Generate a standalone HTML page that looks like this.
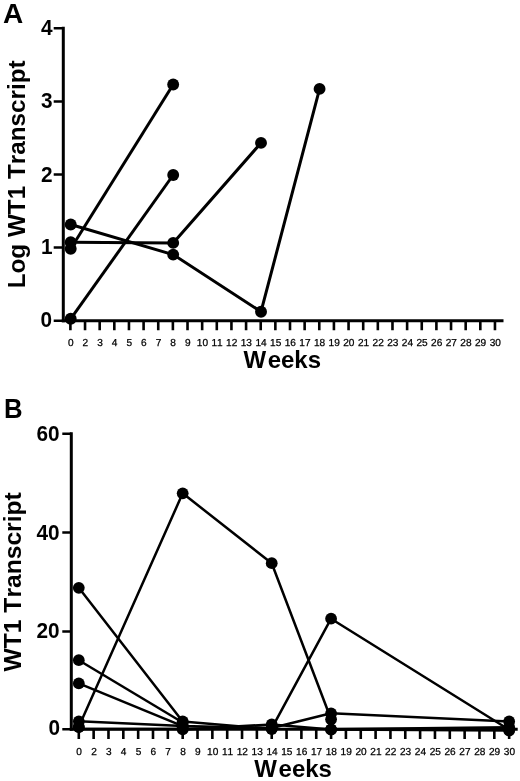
<!DOCTYPE html>
<html><head><meta charset="utf-8"><title>WT1 Transcript</title>
<style>
html,body{margin:0;padding:0;background:#fff;}
body{width:520px;height:781px;overflow:hidden;font-family:"Liberation Sans",sans-serif;}
svg{display:block;will-change:transform;filter:grayscale(1);}
text{font-family:"Liberation Sans",sans-serif;fill:#000;font-kerning:none;}
.ax{stroke:#000;stroke-width:3;fill:none;stroke-linecap:butt;}
.tk{stroke:#000;stroke-width:2.6;fill:none;}
.ln{stroke:#000;stroke-width:3;fill:none;stroke-linejoin:round;}
.pt{fill:#000;}
.xl{font-size:10.1px;text-anchor:middle;text-rendering:geometricPrecision;stroke:#000;stroke-width:0.25px;}
.yl{font-size:22px;font-weight:bold;text-anchor:end;}
.big{font-size:24px;font-weight:bold;}
.let{font-size:28px;font-weight:bold;}
</style></head><body>
<svg width="520" height="781" viewBox="0 0 520 781">
<rect width="520" height="781" fill="#fff"/>

<g>
<text class="let" x="2.9" y="22.7">A</text>
<text class="big" transform="translate(25.2,288.3) rotate(-90)" textLength="228" lengthAdjust="spacingAndGlyphs">Log WT1 Transcript</text>
<path class="ax" d="M63.3 26.8 V322.2"/>
<path class="ax" d="M61.8 320.7 H503.5"/>
<text class="yl" transform="translate(52,327.2) scale(0.945,1)">0</text>
<text class="yl" transform="translate(52.5,253.8) scale(0.945,1)">1</text>
<text class="yl" transform="translate(52.5,181.6) scale(0.945,1)">2</text>
<text class="yl" transform="translate(52.5,107.9) scale(0.945,1)">3</text>
<text class="yl" transform="translate(52.5,34.85) scale(0.945,1)">4</text>
<path class="ax" style="stroke-width:2.5" d="M53.7 320.7 H63.3M53.7 247.4 H63.3M53.7 174.4 H63.3M53.7 101.4 H63.3M53.7 28.3 H63.3"/>
<text class="xl" x="70.7" y="345.9">0</text>
<text class="xl" x="85.34" y="345.9">2</text>
<text class="xl" x="99.98" y="345.9">3</text>
<text class="xl" x="114.62" y="345.9">4</text>
<text class="xl" x="129.26" y="345.9">5</text>
<text class="xl" x="143.9" y="345.9">6</text>
<text class="xl" x="158.54" y="345.9">7</text>
<text class="xl" x="173.18" y="345.9">8</text>
<text class="xl" x="187.82" y="345.9">9</text>
<text class="xl" x="202.46" y="345.9">10</text>
<text class="xl" x="217.1" y="345.9">11</text>
<text class="xl" x="231.74" y="345.9">12</text>
<text class="xl" x="246.38" y="345.9">13</text>
<text class="xl" x="261.02" y="345.9">14</text>
<text class="xl" x="275.66" y="345.9">15</text>
<text class="xl" x="290.3" y="345.9">16</text>
<text class="xl" x="304.94" y="345.9">17</text>
<text class="xl" x="319.58" y="345.9">18</text>
<text class="xl" x="334.22" y="345.9">19</text>
<text class="xl" x="348.86" y="345.9">20</text>
<text class="xl" x="363.5" y="345.9">21</text>
<text class="xl" x="378.14" y="345.9">22</text>
<text class="xl" x="392.78" y="345.9">23</text>
<text class="xl" x="407.42" y="345.9">24</text>
<text class="xl" x="422.06" y="345.9">25</text>
<text class="xl" x="436.7" y="345.9">26</text>
<text class="xl" x="451.34" y="345.9">27</text>
<text class="xl" x="465.98" y="345.9">28</text>
<text class="xl" x="480.62" y="345.9">29</text>
<text class="xl" x="495.26" y="345.9">30</text>
<path class="tk" d="M70.4 320.7 V330.3M85.04 320.7 V330.3M99.68 320.7 V330.3M114.32 320.7 V330.3M128.96 320.7 V330.3M143.6 320.7 V330.3M158.24 320.7 V330.3M172.88 320.7 V330.3M187.52 320.7 V330.3M202.16 320.7 V330.3M216.8 320.7 V330.3M231.44 320.7 V330.3M246.08 320.7 V330.3M260.72 320.7 V330.3M275.36 320.7 V330.3M290 320.7 V330.3M304.64 320.7 V330.3M319.28 320.7 V330.3M333.92 320.7 V330.3M348.56 320.7 V330.3M363.2 320.7 V330.3M377.84 320.7 V330.3M392.48 320.7 V330.3M407.12 320.7 V330.3M421.76 320.7 V330.3M436.4 320.7 V330.3M451.04 320.7 V330.3M465.68 320.7 V330.3M480.32 320.7 V330.3M494.96 320.7 V330.3"/>
<text class="big" x="243.4" y="368.4">W<tspan dx="1.6">eeks</tspan></text>
<polyline class="ln" style="stroke-width:3" points="70.7,248.8 173.18,84.5"/>
<polyline class="ln" style="stroke-width:3" points="70.7,318.8 173.18,175"/>
<polyline class="ln" style="stroke-width:3" points="70.7,242.2 173.18,242.9 261.02,142.9"/>
<polyline class="ln" style="stroke-width:3" points="70.7,224.5 173.18,254.6 261.02,311.7 319.58,88.9"/>
<circle class="pt" cx="70.7" cy="248.8" r="5.95"/>
<circle class="pt" cx="173.18" cy="84.5" r="5.95"/>
<circle class="pt" cx="70.7" cy="318.8" r="5.95"/>
<circle class="pt" cx="173.18" cy="175" r="5.95"/>
<circle class="pt" cx="70.7" cy="242.2" r="5.95"/>
<circle class="pt" cx="173.18" cy="242.9" r="5.95"/>
<circle class="pt" cx="261.02" cy="142.9" r="5.95"/>
<circle class="pt" cx="70.7" cy="224.5" r="5.95"/>
<circle class="pt" cx="173.18" cy="254.6" r="5.95"/>
<circle class="pt" cx="261.02" cy="311.7" r="5.95"/>
<circle class="pt" cx="319.58" cy="88.9" r="5.95"/>
</g>
<g>
<text class="let" x="4.0" y="417.8" textLength="18.6" lengthAdjust="spacingAndGlyphs">B</text>
<text class="big" transform="translate(21.4,671.5) rotate(-90)" textLength="179.3" lengthAdjust="spacingAndGlyphs">WT1 Transcript</text>
<path class="ax" d="M71.3 432.3 V730.8"/>
<path class="ax" d="M69.8 729.3 H517.7"/>
<text class="yl" transform="translate(60.1,735.4) scale(0.945,1)">0</text>
<text class="yl" transform="translate(59.6,638.15) scale(0.945,1)">20</text>
<text class="yl" transform="translate(59.6,539.6) scale(0.945,1)">40</text>
<text class="yl" transform="translate(59.6,440.7) scale(0.945,1)">60</text>
<path class="ax" style="stroke-width:2.5" d="M62.3 729.3 H71.3M62.3 631.4 H71.3M62.3 532.4 H71.3M62.3 433.8 H71.3"/>
<text class="xl" x="79.1" y="755.3">0</text>
<text class="xl" x="93.94" y="755.3">2</text>
<text class="xl" x="108.78" y="755.3">3</text>
<text class="xl" x="123.62" y="755.3">4</text>
<text class="xl" x="138.46" y="755.3">5</text>
<text class="xl" x="153.3" y="755.3">6</text>
<text class="xl" x="168.14" y="755.3">7</text>
<text class="xl" x="182.98" y="755.3">8</text>
<text class="xl" x="197.82" y="755.3">9</text>
<text class="xl" x="212.66" y="755.3">10</text>
<text class="xl" x="227.5" y="755.3">11</text>
<text class="xl" x="242.34" y="755.3">12</text>
<text class="xl" x="257.18" y="755.3">13</text>
<text class="xl" x="272.02" y="755.3">14</text>
<text class="xl" x="286.86" y="755.3">15</text>
<text class="xl" x="301.7" y="755.3">16</text>
<text class="xl" x="316.54" y="755.3">17</text>
<text class="xl" x="331.38" y="755.3">18</text>
<text class="xl" x="346.22" y="755.3">19</text>
<text class="xl" x="361.06" y="755.3">20</text>
<text class="xl" x="375.9" y="755.3">21</text>
<text class="xl" x="390.74" y="755.3">22</text>
<text class="xl" x="405.58" y="755.3">23</text>
<text class="xl" x="420.42" y="755.3">24</text>
<text class="xl" x="435.26" y="755.3">25</text>
<text class="xl" x="450.1" y="755.3">26</text>
<text class="xl" x="464.94" y="755.3">27</text>
<text class="xl" x="479.78" y="755.3">28</text>
<text class="xl" x="494.62" y="755.3">29</text>
<text class="xl" x="509.46" y="755.3">30</text>
<path class="tk" d="M78.8 729.3 V738.9M93.64 729.3 V738.9M108.48 729.3 V738.9M123.32 729.3 V738.9M138.16 729.3 V738.9M153 729.3 V738.9M167.84 729.3 V738.9M182.68 729.3 V738.9M197.52 729.3 V738.9M212.36 729.3 V738.9M227.2 729.3 V738.9M242.04 729.3 V738.9M256.88 729.3 V738.9M271.72 729.3 V738.9M286.56 729.3 V738.9M301.4 729.3 V738.9M316.24 729.3 V738.9M331.08 729.3 V738.9M345.92 729.3 V738.9M360.76 729.3 V738.9M375.6 729.3 V738.9M390.44 729.3 V738.9M405.28 729.3 V738.9M420.12 729.3 V738.9M434.96 729.3 V738.9M449.8 729.3 V738.9M464.64 729.3 V738.9M479.48 729.3 V738.9M494.32 729.3 V738.9M509.16 729.3 V738.9"/>
<text class="big" x="254.3" y="777.0">W<tspan dx="1.6">eeks</tspan></text>
<polyline class="ln" style="stroke-width:2.5" points="78.8,587.8 182.68,721.4 271.72,729"/>
<polyline class="ln" style="stroke-width:2.5" points="78.8,660.2 182.68,722.5"/>
<polyline class="ln" style="stroke-width:2.5" points="78.8,683.4 182.68,726.2"/>
<polyline class="ln" style="stroke-width:2.5" points="78.8,726.8 182.68,493.3 271.72,563.2 331.08,719.3"/>
<polyline class="ln" style="stroke-width:2.5" points="78.8,721.3 182.68,726 271.72,728 331.08,713.3 509.16,721.4"/>
<polyline class="ln" style="stroke-width:2.5" points="78.8,729 182.68,728.9 271.72,728.3 331.08,618.7 509.16,729.8"/>
<polyline class="ln" style="stroke-width:2.5" points="182.68,729.4 271.72,724.5 331.08,729.6 509.16,730.5"/>
<polyline class="ln" style="stroke-width:2.5" points="331.08,729.3 509.16,727.2"/>
<circle class="pt" cx="78.8" cy="587.8" r="5.9"/>
<circle class="pt" cx="182.68" cy="721.4" r="5.9"/>
<circle class="pt" cx="271.72" cy="729" r="5.9"/>
<circle class="pt" cx="78.8" cy="660.2" r="5.9"/>
<circle class="pt" cx="182.68" cy="722.5" r="5.9"/>
<circle class="pt" cx="78.8" cy="683.4" r="5.9"/>
<circle class="pt" cx="182.68" cy="726.2" r="5.9"/>
<circle class="pt" cx="78.8" cy="726.8" r="5.9"/>
<circle class="pt" cx="182.68" cy="493.3" r="5.9"/>
<circle class="pt" cx="271.72" cy="563.2" r="5.9"/>
<circle class="pt" cx="331.08" cy="719.3" r="5.9"/>
<circle class="pt" cx="78.8" cy="721.3" r="5.9"/>
<circle class="pt" cx="182.68" cy="726" r="5.9"/>
<circle class="pt" cx="271.72" cy="728" r="5.9"/>
<circle class="pt" cx="331.08" cy="713.3" r="5.9"/>
<circle class="pt" cx="509.16" cy="721.4" r="5.9"/>
<circle class="pt" cx="78.8" cy="727.2" r="5.9"/>
<circle class="pt" cx="182.68" cy="727.6" r="5.9"/>
<circle class="pt" cx="271.72" cy="728.3" r="5.9"/>
<circle class="pt" cx="331.08" cy="618.7" r="5.9"/>
<circle class="pt" cx="509.16" cy="729.8" r="5.9"/>
<circle class="pt" cx="182.68" cy="729.4" r="5.9"/>
<circle class="pt" cx="271.72" cy="724.5" r="5.9"/>
<circle class="pt" cx="331.08" cy="729.6" r="5.9"/>
<circle class="pt" cx="509.16" cy="730.5" r="5.9"/>
<circle class="pt" cx="331.08" cy="729.3" r="5.9"/>
<circle class="pt" cx="509.16" cy="727.2" r="5.9"/>
</g>
</svg></body></html>
